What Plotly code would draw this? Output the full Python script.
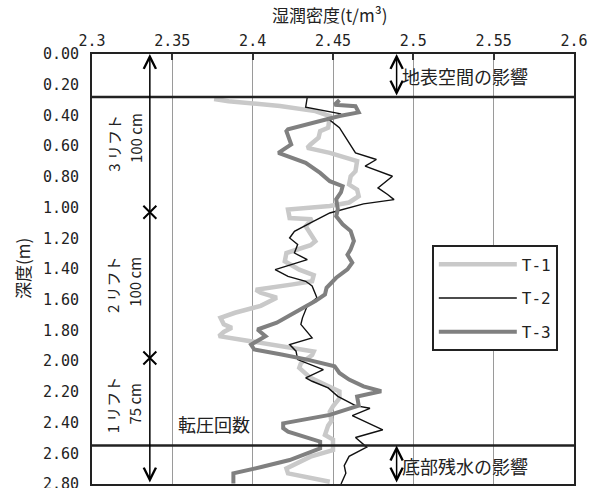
import plotly.graph_objects as go

# ---------------- data ----------------
t1_depth = [0.293, 0.307, 0.339, 0.372, 0.404, 0.48, 0.502, 0.546, 0.589, 0.611, 0.644, 0.698, 0.763,
            0.796, 0.85, 0.883, 0.926, 0.967, 0.99, 1.013, 1.068, 1.076, 1.122, 1.166, 1.22, 1.245,
            1.296, 1.35, 1.404, 1.44, 1.48, 1.50, 1.535, 1.555, 1.587, 1.64, 1.685, 1.718, 1.76,
            1.783, 1.81, 1.837, 1.86, 1.872, 1.937, 1.96, 2.014, 2.044, 2.109, 2.198, 2.242, 2.294,
            2.329, 2.39, 2.42, 2.481, 2.511, 2.579, 2.622, 2.699, 2.731, 2.785]
t1_density = [2.376, 2.385, 2.417, 2.439, 2.448, 2.447, 2.442, 2.441, 2.436, 2.434, 2.448, 2.465, 2.464,
              2.461, 2.460, 2.465, 2.466, 2.460, 2.448, 2.422, 2.423, 2.437, 2.433, 2.436, 2.439, 2.436,
              2.421, 2.420, 2.429, 2.438, 2.437, 2.425, 2.402, 2.405, 2.415, 2.405, 2.389, 2.380, 2.382,
              2.387, 2.382, 2.379, 2.392, 2.400, 2.438, 2.437, 2.430, 2.429, 2.436, 2.454, 2.454, 2.450,
              2.448, 2.449, 2.447, 2.445, 2.450, 2.450, 2.436, 2.421, 2.422, 2.448]

t2_depth = [0.28, 0.346, 0.39, 0.43, 0.48, 0.644, 0.687, 0.73, 0.796, 0.872, 0.915, 0.948, 0.976,
            1.035, 1.10, 1.155, 1.198, 1.241, 1.296, 1.339, 1.404, 1.448, 1.48, 1.51, 1.587, 1.64,
            1.718, 1.761, 1.848, 1.892, 1.935, 1.99, 2.055, 2.109, 2.131, 2.174, 2.229, 2.29, 2.307,
            2.355, 2.447, 2.497, 2.56, 2.62, 2.68, 2.73, 2.80]
t2_density = [2.434, 2.433, 2.455, 2.448, 2.454, 2.464, 2.477, 2.470, 2.487, 2.478, 2.484, 2.488, 2.469,
              2.448, 2.436, 2.426, 2.423, 2.428, 2.426, 2.434, 2.414, 2.422, 2.433, 2.437, 2.440, 2.434,
              2.431, 2.430, 2.437, 2.423, 2.427, 2.428, 2.444, 2.433, 2.437, 2.447, 2.453, 2.464, 2.473,
              2.462, 2.481, 2.464, 2.471, 2.460, 2.457, 2.458, 2.455]

t3_depth = [0.30, 0.33, 0.34, 0.38, 0.404, 0.49, 0.502, 0.589, 0.644, 0.665, 0.709, 0.774, 0.828,
            0.861, 0.90, 0.946, 1.011, 1.057, 1.109, 1.153, 1.218, 1.272, 1.307, 1.359, 1.402, 1.457,
            1.522, 1.566, 1.609, 1.685, 1.75, 1.794, 1.837, 1.892, 1.924, 1.957, 1.99, 2.033, 2.077,
            2.12, 2.164, 2.196, 2.23, 2.29, 2.35, 2.405, 2.437, 2.459, 2.524, 2.568, 2.644, 2.688,
            2.731, 2.797]
t3_density = [2.454, 2.451, 2.464, 2.466, 2.454, 2.422, 2.421, 2.424, 2.416, 2.422, 2.433, 2.442, 2.448,
              2.456, 2.455, 2.452, 2.453, 2.452, 2.456, 2.461, 2.463, 2.461, 2.459, 2.462, 2.459, 2.452,
              2.446, 2.445, 2.439, 2.426, 2.415, 2.403, 2.408, 2.399, 2.401, 2.418, 2.434, 2.451, 2.454,
              2.460, 2.469, 2.480, 2.465, 2.466, 2.448, 2.419, 2.419, 2.422, 2.442, 2.442, 2.423, 2.406,
              2.388, 2.388]

series_names = ["T-1", "T-2", "T-3"]
x_ticks = [2.3, 2.35, 2.4, 2.45, 2.5, 2.55, 2.6]
y_ticks = [0.0, 0.2, 0.4, 0.6, 0.8, 1.0, 1.2, 1.4, 1.6, 1.8, 2.0, 2.2, 2.4, 2.6, 2.8]
zone_bounds = [0.28, 2.55]          # surface-space / bottom-water influence boundaries
lift_marks = [1.03, 1.98]           # lift boundaries on compaction arrow
lift_arrow_x = 2.336
influence_arrow_x = 2.4896

FONT_CJK = "Noto Sans CJK JP"
FONT_NUM = "DejaVu Sans Mono"
INK = "#222222"

fig = go.Figure()
fig.add_trace(go.Scatter(x=t1_density, y=t1_depth, mode="lines", name=series_names[0],
                         line=dict(color="#c9c9c9", width=4.5), legendgroup="a"))
fig.add_trace(go.Scatter(x=t2_density, y=t2_depth, mode="lines", name=series_names[1],
                         line=dict(color="#111111", width=1.4), legendgroup="b"))
fig.add_trace(go.Scatter(x=t3_density, y=t3_depth, mode="lines", name=series_names[2],
                         line=dict(color="#808080", width=4), legendgroup="c"))
fig.add_trace(go.Scatter(x=[lift_arrow_x] * len(lift_marks), y=lift_marks, mode="markers",
                         showlegend=False, cliponaxis=False,
                         marker=dict(symbol="x-thin", size=13, line=dict(color="black", width=2))))

# zone boundary lines
for b in zone_bounds:
    fig.add_shape(type="line", xref="paper", x0=0, x1=1, yref="y", y0=b, y1=b,
                  line=dict(color=INK, width=2.5))

# arrows
def dbl_arrow(x, y0, y1):
    fig.add_annotation(x=x, y=y0, ax=x, ay=y1, xref="x", yref="y", axref="x", ayref="y",
                       text="", showarrow=True, arrowhead=5, arrowside="end+start",
                       arrowsize=1.6, arrowwidth=1.5, arrowcolor="black", standoff=0, startstandoff=0)

dbl_arrow(lift_arrow_x, 0.0, 2.8)
dbl_arrow(influence_arrow_x, 0.0, zone_bounds[0])
dbl_arrow(influence_arrow_x, zone_bounds[1], 2.8)

txt = dict(family=FONT_CJK, size=18, color=INK)
fig.add_annotation(x=2.492, y=0.143, text="地表空間の影響", showarrow=False,
                   xanchor="left", yanchor="middle", font=txt)
fig.add_annotation(x=2.492, y=2.686, text="底部残水の影響", showarrow=False,
                   xanchor="left", yanchor="middle", font=txt)
fig.add_annotation(x=2.352, y=2.41, text="転圧回数", showarrow=False,
                   xanchor="left", yanchor="middle", font=txt)

vt = dict(family=FONT_CJK, size=15, color=INK)
lift_labels = [("3 リフト", "100 cm", 0.58, 0.548),
               ("2 リフト", "100 cm", 1.50, 1.484),
               ("1 リフト", "75 cm", 2.283, 2.277)]
for a, b, ya, yb in lift_labels:
    fig.add_annotation(x=2.3129, y=ya, text=a, showarrow=False, textangle=-90, font=vt,
                       xanchor="center", yanchor="middle")
    fig.add_annotation(x=2.3267, y=yb, text=b, showarrow=False, textangle=-90, font=vt,
                       xanchor="center", yanchor="middle")

# axis titles
fig.add_annotation(xref="paper", yref="paper", x=0.493, y=1.091, text="湿潤密度(t/m³)",
                   xanchor="center", yanchor="middle",
                   showarrow=False, font=dict(family=FONT_CJK, size=17, color=INK))
fig.add_annotation(xref="paper", yref="paper", x=-0.145, y=0.5, text="深度(m)", textangle=-90,
                   xanchor="center", yanchor="middle",
                   showarrow=False, font=dict(family=FONT_CJK, size=17, color=INK))

fig.update_layout(
    width=590, height=488,
    margin=dict(l=92, r=16, t=54, b=4, autoexpand=False),
    paper_bgcolor="white", plot_bgcolor="white",
    showlegend=True,
    legend=dict(x=0.705, y=0.555, xanchor="left", yanchor="top",
                bordercolor=INK, borderwidth=2, bgcolor="white",
                font=dict(family=FONT_NUM, size=16, color=INK),
                itemwidth=78, tracegroupgap=10),
    xaxis=dict(side="top", range=[2.3, 2.6], tickvals=x_ticks,
               ticktext=[f"{v:g}" for v in x_ticks], automargin=False,
               ticklabeloverflow="allow",
               showgrid=True, gridcolor="#9a9a9a", gridwidth=1,
               ticks="inside", ticklen=6, tickwidth=2, tickcolor="#333333",
               showline=True, linecolor=INK, linewidth=2, mirror=True,
               tickfont=dict(family=FONT_NUM, size=15, color=INK),
               zeroline=False),
    yaxis=dict(range=[2.8, 0.0], tickvals=y_ticks, automargin=False,
               ticktext=[f"{v:.2f}" for v in y_ticks],
               ticklabeloverflow="allow",
               showgrid=False, ticks="", ticklabelstandoff=8,
               showline=True, linecolor=INK, linewidth=2, mirror=True,
               tickfont=dict(family=FONT_NUM, size=15, color=INK),
               zeroline=False),
)

fig.write_html("out.html", config={"displayModeBar": False},
               post_script="document.body.style.margin='0';")
